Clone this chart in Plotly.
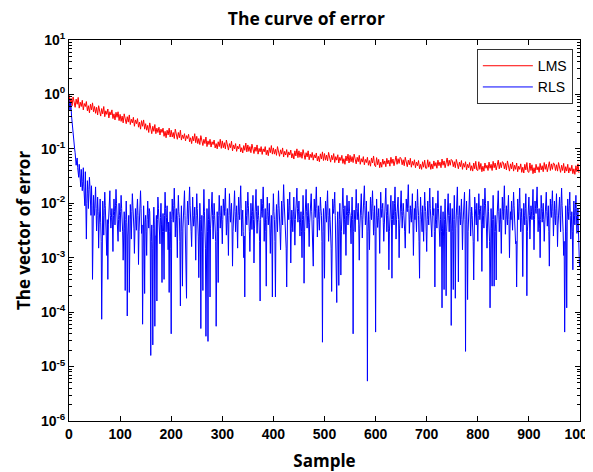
import plotly.graph_objects as go

# LMS error, read every 2nd sample
lms_samples = list(range(0, 1000, 2))
lms_error = [
    1.0, 0.7, 0.85, 0.62, 0.9, 0.72, 0.58, 0.82, 0.66, 0.88, 0.56, 0.72, 0.6, 0.78, 0.52, 0.68, 0.6, 0.74, 0.5, 0.62, 0.46, 0.66, 0.52, 0.7, 0.48,
    0.6, 0.45, 0.58, 0.42, 0.62, 0.48, 0.4, 0.55, 0.44, 0.6, 0.39, 0.5, 0.43, 0.54, 0.37, 0.48, 0.42, 0.52, 0.36, 0.44, 0.34, 0.47, 0.38, 0.48, 0.33,
    0.43, 0.32, 0.4, 0.3, 0.44, 0.34, 0.29, 0.39, 0.31, 0.42, 0.28, 0.35, 0.3, 0.38, 0.26, 0.34, 0.29, 0.36, 0.25, 0.31, 0.23, 0.33, 0.26, 0.34, 0.23,
    0.29, 0.22, 0.27, 0.2, 0.3, 0.23, 0.19, 0.26, 0.21, 0.28, 0.19, 0.24, 0.2, 0.25, 0.18, 0.23, 0.2, 0.24, 0.17, 0.21, 0.16, 0.22, 0.18, 0.24, 0.165,
    0.22, 0.165, 0.2, 0.155, 0.23, 0.18, 0.15, 0.2, 0.16, 0.22, 0.145, 0.18, 0.155, 0.19, 0.14, 0.175, 0.155, 0.185, 0.135, 0.16, 0.125, 0.17, 0.14, 0.19, 0.13,
    0.17, 0.125, 0.155, 0.12, 0.175, 0.14, 0.115, 0.15, 0.125, 0.165, 0.11, 0.14, 0.12, 0.15, 0.108, 0.135, 0.12, 0.145, 0.104, 0.125, 0.1, 0.135, 0.11, 0.15, 0.102,
    0.14, 0.105, 0.13, 0.1, 0.145, 0.115, 0.095, 0.125, 0.105, 0.138, 0.092, 0.118, 0.1, 0.125, 0.09, 0.112, 0.1, 0.122, 0.088, 0.105, 0.084, 0.115, 0.094, 0.128, 0.088,
    0.118, 0.09, 0.11, 0.085, 0.122, 0.097, 0.082, 0.108, 0.09, 0.118, 0.08, 0.102, 0.088, 0.11, 0.079, 0.1, 0.088, 0.11, 0.078, 0.095, 0.075, 0.105, 0.085, 0.115, 0.08,
    0.104, 0.08, 0.098, 0.076, 0.11, 0.086, 0.073, 0.096, 0.08, 0.104, 0.071, 0.09, 0.077, 0.097, 0.07, 0.088, 0.077, 0.095, 0.068, 0.082, 0.065, 0.092, 0.074, 0.1, 0.069,
    0.092, 0.07, 0.087, 0.067, 0.097, 0.076, 0.064, 0.085, 0.071, 0.092, 0.063, 0.08, 0.069, 0.086, 0.062, 0.078, 0.068, 0.084, 0.06, 0.073, 0.058, 0.081, 0.065, 0.088, 0.061,
    0.082, 0.062, 0.077, 0.06, 0.086, 0.068, 0.057, 0.076, 0.063, 0.082, 0.056, 0.072, 0.062, 0.078, 0.055, 0.07, 0.061, 0.076, 0.054, 0.066, 0.052, 0.074, 0.06, 0.08, 0.055,
    0.076, 0.058, 0.072, 0.056, 0.08, 0.063, 0.053, 0.07, 0.058, 0.076, 0.052, 0.066, 0.057, 0.072, 0.051, 0.064, 0.056, 0.07, 0.05, 0.061, 0.048, 0.068, 0.055, 0.074, 0.05,
    0.047, 0.069, 0.051, 0.064, 0.045, 0.057, 0.046, 0.065, 0.052, 0.06, 0.047, 0.067, 0.053, 0.062, 0.048, 0.07, 0.054, 0.065, 0.049, 0.058, 0.074, 0.052, 0.066, 0.054, 0.07,
    0.066, 0.051, 0.063, 0.049, 0.07, 0.055, 0.047, 0.062, 0.051, 0.067, 0.046, 0.059, 0.05, 0.063, 0.045, 0.057, 0.049, 0.061, 0.043, 0.052, 0.042, 0.058, 0.046, 0.062, 0.044,
    0.044, 0.063, 0.046, 0.058, 0.042, 0.053, 0.043, 0.06, 0.048, 0.056, 0.044, 0.062, 0.049, 0.057, 0.045, 0.065, 0.05, 0.06, 0.045, 0.053, 0.068, 0.048, 0.062, 0.05, 0.064,
    0.061, 0.047, 0.058, 0.045, 0.064, 0.05, 0.043, 0.057, 0.047, 0.061, 0.042, 0.054, 0.046, 0.058, 0.041, 0.052, 0.045, 0.056, 0.04, 0.049, 0.039, 0.055, 0.043, 0.059, 0.041,
    0.04, 0.058, 0.042, 0.054, 0.038, 0.048, 0.039, 0.055, 0.044, 0.05, 0.04, 0.057, 0.044, 0.052, 0.04, 0.059, 0.045, 0.055, 0.041, 0.048, 0.062, 0.043, 0.056, 0.045, 0.058,
    0.056, 0.043, 0.054, 0.041, 0.06, 0.046, 0.039, 0.053, 0.043, 0.057, 0.039, 0.05, 0.042, 0.055, 0.038, 0.048, 0.042, 0.053, 0.037, 0.046, 0.036, 0.052, 0.041, 0.056, 0.038,
    0.037, 0.055, 0.04, 0.051, 0.035, 0.045, 0.036, 0.052, 0.041, 0.047, 0.037, 0.054, 0.041, 0.049, 0.038, 0.056, 0.042, 0.052, 0.038, 0.045, 0.058, 0.04, 0.053, 0.042, 0.055,
    0.053, 0.04, 0.051, 0.039, 0.056, 0.043, 0.037, 0.05, 0.04, 0.054, 0.036, 0.047, 0.039, 0.052, 0.036, 0.045, 0.039, 0.05, 0.035, 0.043, 0.034, 0.049, 0.038, 0.053, 0.036,
]

# RLS error, every sample 0..999
rls_samples = list(range(0, 1000))
rls_error = [
    0.8, 0.65, 0.5, 0.7, 0.62, 0.4, 0.3, 0.24, 0.19, 0.15, 0.12, 0.1, 0.085, 0.07, 0.05, 0.06, 0.068, 0.045, 0.036, 0.03, 0.052, 0.04, 0.028, 0.02, 0.042, 0.03, 0.017, 0.025, 0.045, 0.02, 0.011, 0.009, 0.038, 0.012, 2.2e-3, 0.01, 0.026, 0.015, 8e-3, 0.018, 0.03, 0.02, 0.012, 6e-3, 0.021, 0.009, 4e-4, 5e-3, 0.014, 0.008,
    6e-3, 0.011, 0.02, 8e-3, 3.1e-3, 6e-3, 0.013, 7e-3, 1.5e-3, 4e-3, 9e-3, 0.012, 4.5e-3, 2e-3, 7.4e-5, 3e-3, 0.011, 6e-3, 2.6e-3, 8e-3, 0.016, 9e-3, 5e-3, 3e-3, 1.1e-3, 5e-3, 4e-4, 4e-3, 7e-3, 0.011, 0.017, 6e-3, 3.5e-3, 5.5e-3, 8e-3, 4e-3, 1.3e-3, 6e-3, 0.012, 7e-3, 4e-3, 9e-3, 0.018, 0.01, 6.5e-3, 3.5e-3, 2e-3, 5e-3, 0.01, 6e-3,
    3e-3, 7e-3, 0.014, 8e-3, 5.5e-3, 3e-3, 9e-4, 4e-3, 7e-3, 3.5e-3, 2.5e-4, 5e-3, 0.011, 4.5e-3, 8.5e-5, 2.5e-3, 4e-3, 6e-3, 2.3e-4, 5e-3, 9.5e-3, 5e-3, 2.2e-3, 7e-3, 0.015, 9e-3, 6e-3, 3.5e-3, 1.2e-3, 4.5e-3, 8e-3, 5e-3, 3.2e-3, 7.5e-3, 0.012, 6e-3, 7.5e-4, 3e-3, 5e-3, 9e-3, 0.017, 8e-3, 2.8e-3, 4e-3, 6e-5, 3.5e-3, 9e-3, 4e-3, 2.2e-4, 4.5e-3,
    6e-3, 3e-3, 1.1e-3, 5e-3, 0.011, 6.5e-3, 3.5e-3, 8e-3, 7e-3, 2.5e-3, 1.6e-5, 2e-3, 4e-3, 1.5e-3, 2.5e-5, 3.5e-3, 8.5e-3, 4e-3, 5.5e-5, 2.5e-3, 2.5e-3, 6e-3, 1.6e-4, 5e-3, 0.013, 8e-3, 5e-3, 3e-3, 1.8e-3, 5.5e-3, 0.01, 4e-3, 3.5e-4, 3e-3, 6.5e-3, 3e-3, 4e-4, 6e-3, 0.016, 8e-3, 3e-3, 5.5e-3, 9e-3, 4e-3, 1.4e-3, 4.5e-3, 2.3e-4, 3e-3, 7e-3, 1.5e-3,
    4e-5, 5e-3, 0.012, 7e-3, 4.5e-3, 9e-3, 0.019, 8e-3, 2.4e-3, 5e-3, 8e-3, 3.5e-3, 1e-3, 6e-3, 0.014, 7e-3, 5.5e-3, 2e-3, 1.3e-4, 4e-3, 9e-3, 3e-3, 3e-4, 3.5e-3, 6e-3, 0.01, 0.017, 6e-3, 2e-3, 1.5e-3, 1.8e-4, 5e-3, 0.011, 6.5e-3, 4e-3, 0.011, 0.02, 9e-3, 6.5e-3, 3e-3, 1.6e-3, 6e-3, 0.013, 6e-3, 3.8e-3, 5e-3, 8.5e-3, 3.5e-3, 9e-4, 6e-3,
    0.015, 8e-3, 5e-3, 2.5e-3, 4.3e-4, 4e-3, 0.01, 5e-3, 5e-5, 3e-3, 6e-3, 2.5e-3, 2.5e-4, 6e-3, 0.018, 7e-3, 3e-3, 1.5e-3, 3.6e-5, 4e-3, 8e-3, 3e-3, 2.9e-5, 5e-3, 0.012, 4e-3, 1.9e-4, 3.5e-3, 5.5e-3, 9e-3, 0.016, 6e-3, 2.2e-3, 5e-3, 0.01, 6e-3, 4e-3, 2e-3, 5.5e-5, 4e-3, 7e-3, 3e-3, 3.5e-4, 6e-3, 0.014, 7e-3, 3.5e-3, 6e-3, 0.009, 4e-3,
    1.8e-3, 5e-3, 0.012, 8e-3, 6e-3, 0.011, 0.019, 7e-3, 2.6e-3, 4.5e-3, 8e-3, 4e-3, 1.1e-3, 6e-3, 0.015, 8e-3, 4.5e-3, 7e-3, 0.01, 4e-3, 7e-4, 3e-3, 6e-3, 0.01, 0.017, 7e-3, 3e-3, 5.5e-3, 9e-3, 4e-3, 1.5e-3, 6e-3, 0.013, 7e-3, 5e-3, 0.011, 0.021, 8e-3, 2.5e-3, 5e-3, 7.5e-3, 3e-3, 1e-3, 2.5e-3, 1.9e-4, 4e-3, 0.011, 6e-3, 4e-3, 8e-3,
    0.016, 9e-3, 6.5e-3, 3e-3, 1.3e-3, 5e-3, 0.01, 6e-3, 3.3e-3, 7e-3, 0.014, 5e-3, 8e-4, 3.5e-3, 7e-3, 0.011, 0.018, 7e-3, 2.8e-3, 5e-3, 9e-3, 6e-3, 4.5e-3, 2e-3, 1.6e-4, 5e-3, 0.012, 7e-3, 5.5e-3, 0.01, 0.02, 8e-3, 2e-3, 4.5e-3, 8e-3, 3e-3, 3e-4, 5e-3, 0.013, 7e-3, 4e-3, 6e-3, 0.01, 4e-3, 1.2e-3, 3.5e-3, 6e-3, 2.5e-3, 1.9e-4, 6e-3,
    0.015, 7e-3, 5e-3, 2e-3, 1.9e-4, 4e-3, 9.5e-3, 5e-3, 3e-3, 8e-3, 0.017, 9e-3, 6e-3, 3e-3, 1.4e-3, 6e-3, 0.011, 6e-3, 4e-3, 0.01, 0.022, 0.011, 7e-3, 4e-3, 2.2e-3, 1.5e-3, 2.9e-4, 5e-3, 0.012, 7e-3, 5e-3, 9e-3, 0.016, 5e-3, 8e-4, 3.5e-3, 7.5e-3, 5e-3, 3e-3, 7e-3, 0.013, 5e-3, 1.7e-3, 5e-3, 9e-3, 0.012, 0.019, 8e-3, 4.5e-3, 7e-3,
    0.011, 5e-3, 2.5e-3, 4.5e-3, 7e-3, 3e-3, 1e-3, 5e-3, 0.014, 6e-3, 3.4e-4, 3e-3, 6e-3, 0.011, 0.018, 7e-3, 3.5e-3, 6e-3, 0.01, 4e-3, 1.6e-3, 4.5e-3, 8e-3, 0.011, 0.015, 7e-3, 4e-3, 2e-3, 7e-4, 5e-3, 0.012, 7e-3, 5.5e-3, 0.011, 0.02, 8e-3, 2.4e-3, 5e-3, 9e-3, 5e-3, 3.2e-3, 7e-3, 0.013, 8e-3, 6e-3, 2e-3, 2.8e-5, 3e-3, 8e-3, 4e-3,
    4.2e-4, 5e-3, 0.011, 7e-3, 4.5e-3, 0.01, 0.017, 6e-3, 2e-3, 4.5e-3, 8e-3, 5e-3, 3.5e-3, 1.5e-3, 2.4e-4, 5e-3, 0.012, 8e-3, 6.5e-3, 0.01, 0.016, 6e-3, 1.3e-3, 2.5e-3, 1.5e-4, 4e-3, 7e-3, 2.5e-3, 3.1e-4, 5e-3, 0.01, 4e-3, 4.8e-4, 3e-3, 5e-3, 0.011, 0.019, 8e-3, 2.7e-3, 5e-3, 9e-3, 4e-3, 1.1e-3, 6e-3, 0.014, 7e-3, 4e-3, 6.5e-3, 0.011, 7e-3,
    6e-3, 3.5e-3, 1.8e-3, 6e-3, 0.013, 5e-3, 4e-5, 3e-3, 7.5e-3, 5e-3, 3e-3, 8e-3, 0.018, 8e-3, 5e-3, 7e-3, 0.01, 4e-3, 9e-4, 3.5e-3, 6.5e-3, 0.01, 0.015, 6e-3, 2.3e-3, 5e-3, 8e-3, 0.012, 0.021, 9e-3, 4e-3, 6e-3, 0.011, 4e-3, 5.4e-6, 3e-3, 7e-3, 3.5e-3, 1.4e-3, 5e-3, 0.013, 8e-3, 5e-3, 0.01, 0.017, 7e-3, 2.6e-3, 5e-3, 9e-3, 3e-3,
    4.3e-5, 4e-3, 0.012, 6e-3, 3.6e-3, 5.5e-3, 8e-3, 4e-3, 1.2e-3, 5e-3, 0.016, 8e-3, 5.5e-3, 8e-3, 0.01, 4.5e-3, 2e-3, 4e-3, 7e-3, 0.011, 0.019, 7e-3, 3e-3, 6e-3, 9.5e-3, 3.5e-3, 6e-4, 3e-3, 6e-3, 0.009, 0.014, 5e-3, 4.2e-4, 5e-3, 0.011, 6e-3, 4e-3, 0.01, 0.02, 7e-3, 2.2e-3, 5e-3, 8e-3, 0.011, 0.013, 5e-3, 1e-3, 3.5e-3, 6.5e-3, 0.011,
    0.017, 7e-3, 3.5e-3, 6e-3, 0.01, 7e-3, 5e-3, 3e-3, 1.5e-3, 5e-3, 0.012, 8e-3, 7e-3, 0.012, 0.022, 8e-3, 2.8e-3, 5e-3, 9e-3, 6e-3, 4.5e-3, 8e-3, 0.015, 5e-3, 1.1e-3, 4e-3, 8e-3, 5e-3, 0.011, 6e-3, 3e-3, 8e-3, 0.018, 9e-3, 6e-3, 2e-3, 4.2e-4, 5e-3, 0.013, 7e-3, 5e-3, 3e-3, 0.009, 5e-3, 2e-3, 7e-3, 0.016, 9e-3, 7e-3, 3e-3,
    1.3e-3, 5e-3, 0.011, 6e-3, 4e-3, 0.01, 0.019, 8e-3, 6e-3, 3.5e-3, 2.4e-3, 6e-3, 0.013, 6e-3, 8e-3, 3e-3, 2.9e-4, 4e-3, 0.01, 5e-3, 3.5e-3, 8e-3, 0.017, 8e-3, 5.5e-3, 3e-3, 1.6e-3, 5e-3, 9e-3, 3e-3, 1.2e-4, 3.5e-3, 7e-3, 2.5e-3, 2.6e-4, 5e-3, 0.012, 4e-3, 2e-4, 3e-3, 6e-3, 0.009, 0.015, 6e-3, 3e-3, 6e-3, 0.01, 4e-3, 5.7e-5, 3.5e-3,
    8e-3, 3e-3, 2.6e-4, 5e-3, 0.014, 5e-3, 1.8e-4, 3.5e-3, 6e-3, 0.011, 0.02, 6e-3, 3.6e-4, 5e-3, 9e-3, 6e-3, 4e-3, 7e-3, 0.012, 5e-3, 1.4e-3, 4e-3, 7e-3, 0.01, 0.016, 5e-3, 1.9e-5, 4e-3, 0.011, 4e-3, 1.7e-4, 3e-3, 5e-3, 0.01, 0.018, 7e-3, 2.5e-3, 5e-3, 8.5e-3, 6e-3, 4e-3, 2e-3, 3.9e-4, 5e-3, 0.013, 8e-3, 6e-3, 4e-3, 0.01, 5e-3,
    2e-3, 6e-3, 0.015, 8e-3, 5e-3, 7e-3, 9e-3, 4e-3, 5.6e-4, 4e-3, 0.012, 6e-3, 3.5e-3, 9e-3, 0.019, 0.01, 7e-3, 3.5e-3, 1.5e-3, 5e-3, 0.011, 7e-3, 4.5e-3, 2e-3, 1.2e-4, 3e-3, 8e-3, 3.5e-3, 3e-4, 5e-3, 0.014, 5e-3, 3e-4, 3e-3, 6e-3, 3e-3, 3.9e-4, 4e-3, 0.01, 0.012, 0.017, 7e-3, 3e-3, 5e-3, 8e-3, 4e-3, 1.2e-3, 5e-3, 0.013, 7e-3,
    5e-3, 0.011, 0.021, 8e-3, 2.7e-3, 5e-3, 9e-3, 6e-3, 4e-3, 8e-3, 0.014, 5e-3, 1e-3, 3.5e-3, 7e-3, 5e-3, 0.011, 6e-3, 3.2e-3, 8e-3, 0.016, 9e-3, 6e-3, 3.5e-3, 1.8e-3, 2e-3, 2.9e-4, 5e-3, 0.012, 7e-3, 5e-3, 0.01, 0.019, 7e-3, 3e-3, 5.5e-3, 8e-3, 3e-3, 4.5e-4, 4e-3, 0.01, 6e-3, 4e-3, 8e-3, 0.015, 5e-3, 2e-4, 3e-3, 7e-3, 0.01,
    0.013, 6e-3, 2.2e-3, 5e-3, 9e-3, 7e-3, 5e-3, 0.01, 0.018, 6e-3, 1.4e-3, 5e-3, 0.011, 8e-3, 6.5e-3, 0.011, 0.02, 8e-3, 3e-3, 5e-3, 8e-3, 3.5e-3, 1e-3, 5e-3, 0.014, 8e-3, 4.5e-3, 7e-3, 0.01, 5e-3, 2e-3, 4e-3, 7e-3, 0.011, 0.016, 7e-3, 3.8e-3, 6e-3, 9e-3, 3e-3, 7e-4, 4e-3, 0.012, 7e-3, 5.5e-3, 0.01, 0.017, 7e-3, 2.5e-3, 5e-3,
    0.011, 6e-3, 4e-3, 8e-3, 0.015, 6e-3, 1.6e-3, 4e-3, 8e-3, 0.011, 0.013, 6e-3, 3e-3, 0.01, 0.019, 9e-3, 6e-3, 3e-3, 1.1e-3, 2e-3, 4.3e-5, 4e-3, 9e-3, 3e-3, 1.2e-4, 5e-3, 0.012, 7e-3, 5e-3, 9e-3, 0.016, 6e-3, 2.2e-3, 4e-3, 7e-3, 3e-3, 6e-4, 4e-3, 0.011, 6e-3, 4e-3, 8e-3, 0.014, 6e-3, 2.8e-3, 5e-3, 8e-3, 3e-3, 1.5e-3, 7e-4,
]

y_exponents = [-6, -5, -4, -3, -2, -1, 0, 1]
x_ticks = [0, 100, 200, 300, 400, 500, 600, 700, 800, 900, 1000]

# the page body adds an 8px offset, so the figure is drawn 8px smaller
FIG_W, FIG_H = 585, 464


def make_figure():
    fig = go.Figure()
    fig.add_trace(go.Scatter(x=lms_samples, y=lms_error, mode='lines', name='LMS',
                             line=dict(color='#ff0000', width=1)))
    fig.add_trace(go.Scatter(x=rls_samples, y=rls_error, mode='lines', name='RLS',
                             line=dict(color='#0000ff', width=1)))

    # matlab style log ticks: majors at decades, minors 2..9
    y_vals = [10.0 ** e for e in y_exponents]
    y_text = ['10<sup>%d</sup>' % e for e in y_exponents]
    minor_vals = [k * 10.0 ** e for e in y_exponents[:-1] for k in range(2, 10)]

    axis_font = dict(family='Arial', size=14, color='black', weight='bold')
    label_font = dict(family='Open Sans', size=17, color='black', weight='bold')
    fig.update_xaxes(range=[0, 1000], tickvals=x_ticks, ticktext=[str(t) for t in x_ticks],
                     ticks='inside', ticklen=5, tickcolor='black', showline=True,
                     linecolor='black', linewidth=1, mirror='ticks', showgrid=False,
                     zeroline=False, tickfont=axis_font, automargin=False,
                     ticklabeloverflow='allow',
                     title=dict(text='Sample', standoff=14, font=label_font))
    fig.update_yaxes(type='log', range=[-6, 1], tickvals=y_vals, ticktext=y_text,
                     ticks='inside', ticklen=5, tickcolor='black', showline=True,
                     linecolor='black', linewidth=1, mirror='allticks', showgrid=False,
                     tickfont=axis_font, automargin=False,
                     minor=dict(tickvals=minor_vals, ticks='inside', ticklen=3, tickcolor='black'),
                     title=dict(text='The vector of error', standoff=5, font=label_font))

    fig.update_layout(
        width=FIG_W, height=FIG_H,
        margin=dict(l=61, r=13, t=32, b=51),
        paper_bgcolor='white', plot_bgcolor='white',
        title=dict(text='The curve of error', x=0.51, xanchor='center', y=0.99, yanchor='top',
                   font=dict(family='Open Sans', size=17.5, color='black', weight='bold')),
        legend=dict(x=0.986, y=0.976, xanchor='right', yanchor='top',
                    bgcolor='white', bordercolor='#333333', borderwidth=1,
                    font=dict(family='Arial', size=14, color='black'),
                    itemwidth=50, tracegroupgap=0),
    )
    return fig


fig = make_figure()
fig.write_html("out.html")
